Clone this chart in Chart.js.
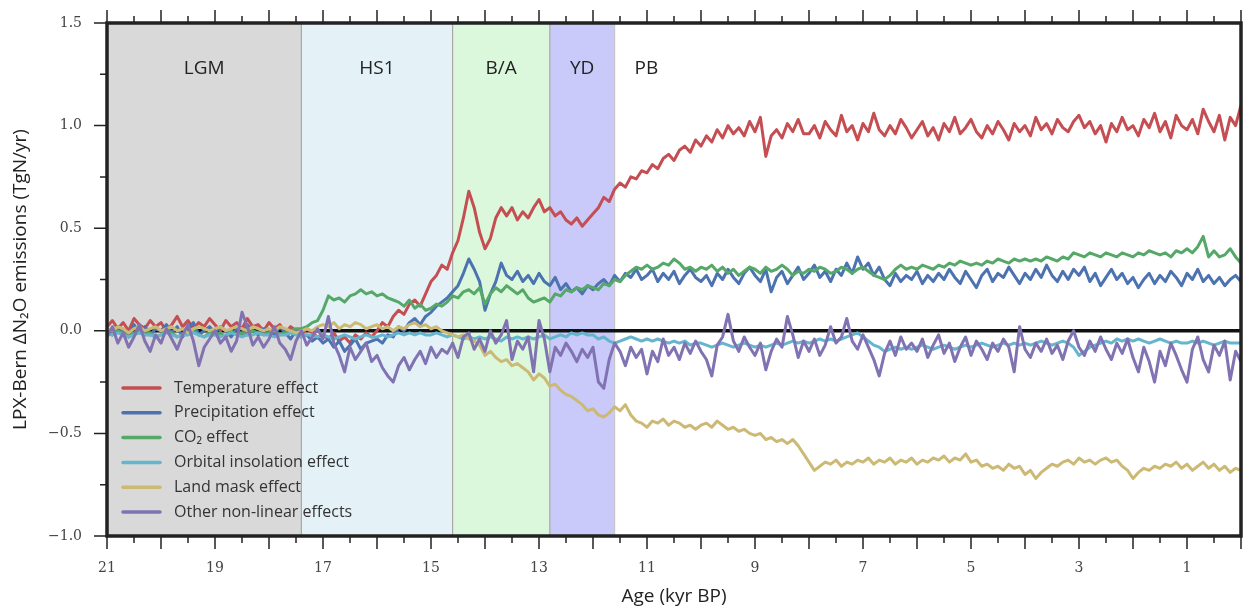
<!DOCTYPE html>
<html>
<head>
<meta charset="utf-8">
<script src="https://cdn.jsdelivr.net/npm/chart.js@4.4.1/dist/chart.umd.min.js"></script>
<style>
  html, body { margin: 0; padding: 0; background: #fff; }
  canvas { display: block; }
</style>
</head>
<body>
<canvas id="chart" width="1243" height="609"></canvas>
<script>
// ages in kyr BP, sampled every 0.1 kyr from 21.0 down to 0.0
const ages = Array.from({ length: 211 }, (_, i) => +(21 - i * 0.1).toFixed(1));

const xTickLabels = [21, 19, 17, 15, 13, 11, 9, 7, 5, 3, 1];
const yTickLabels = [1.5, 1.0, 0.5, 0.0, -0.5, -1.0];

const periodNames = ["LGM", "HS1", "B/A", "YD", "PB"];
const periodStart = [21.0, 17.4, 14.6, 12.8, 11.6];
const periodEnd = [17.4, 14.6, 12.8, 11.6, 0.0];
const periodColors = ["#d9d9d9", "#e4f2f8", "#dcf8dc", "#c9c9fa", "rgba(0,0,0,0)"];

const seriesNames = [
  "Temperature effect",
  "Precipitation effect",
  "CO\u2082 effect",
  "Orbital insolation effect",
  "Land mask effect",
  "Other non-linear effects",
];
const seriesColors = ["#c44e52", "#4c72b0", "#55a868", "#64b5cd", "#ccb974", "#8172b2"];

// one row per kyr (10 values), last value is 0.0 kyr
const temperature = [
  0.02, 0.05, 0.01, 0.04, 0.0, 0.06, 0.03, 0.01, 0.05, 0.02,
  0.04, 0.0, 0.03, 0.07, 0.02, 0.05, 0.01, 0.04, 0.02, 0.06,
  0.03, 0.0, 0.05, 0.02, 0.04, 0.01, 0.06, 0.02, 0.03, 0.0,
  0.04, 0.01, 0.03, -0.01, 0.02, 0.0, -0.02, 0.01, -0.01, -0.03,
  -0.02, -0.04, -0.01, -0.05, -0.03, -0.06, -0.02, -0.04, -0.01, -0.03,
  0.0, 0.04, 0.02, 0.07, 0.1, 0.08, 0.13, 0.15, 0.12, 0.18,
  0.24, 0.27, 0.32, 0.3, 0.38, 0.44, 0.55, 0.68, 0.6, 0.48,
  0.4, 0.45, 0.55, 0.6, 0.56, 0.6, 0.54, 0.58, 0.55, 0.6,
  0.64, 0.58, 0.6, 0.56, 0.58, 0.54, 0.52, 0.55, 0.51, 0.54,
  0.57, 0.6, 0.65, 0.63, 0.69, 0.72, 0.7, 0.75, 0.74, 0.78,
  0.77, 0.81, 0.79, 0.84, 0.86, 0.83, 0.88, 0.9, 0.87, 0.93,
  0.9, 0.95, 0.92, 0.98, 0.94, 1.0, 0.96, 0.99, 0.95, 1.02,
  0.97, 1.04, 0.85, 0.95, 0.98, 0.94, 1.01, 0.97, 1.03, 0.96,
  0.96, 1.0, 0.94, 1.02, 0.98, 0.95, 1.05, 0.97, 1.0, 0.93,
  1.01, 0.97, 1.06, 0.98, 0.95, 1.0, 0.96, 1.03, 0.99, 0.94,
  0.98, 1.02, 0.95, 0.99, 0.93, 1.01, 0.97, 1.04, 0.96, 0.99,
  1.03, 0.97, 0.94, 1.0, 0.96, 1.02, 0.98, 0.93, 1.01, 0.97,
  1.0, 0.95, 1.04, 0.98, 1.01, 0.96, 1.03, 0.99, 0.97, 1.02,
  1.05, 0.99, 1.02, 0.96, 1.0, 0.92, 1.01, 0.97, 1.04, 0.98,
  1.0, 0.95, 1.03, 0.99, 1.06, 0.97, 1.02, 0.94, 1.05, 1.0,
  0.98, 1.03, 0.96, 1.08, 1.02, 0.97, 1.05, 0.93, 1.04, 1.0,
  1.1,
];

const precipitation = [
  0.01, -0.02, 0.02, 0.0, -0.03, 0.03, -0.01, 0.02, -0.02, 0.01,
  0.0, 0.03, -0.01, 0.02, -0.03, 0.01, 0.04, -0.02, 0.0, 0.02,
  -0.01, 0.02, 0.0, -0.03, 0.01, -0.02, 0.03, 0.0, -0.02, 0.01,
  0.0, -0.02, 0.02, -0.01, -0.04, 0.0, -0.03, -0.02, -0.05, -0.03,
  -0.06, -0.04, -0.08, -0.05, -0.1, -0.07, -0.04, -0.09, -0.06, -0.05,
  -0.04, -0.06, -0.02, -0.03, 0.02, 0.0, 0.04, 0.06, 0.03, 0.07,
  0.09, 0.12, 0.14, 0.16, 0.19, 0.22, 0.28, 0.35, 0.3, 0.24,
  0.1, 0.18, 0.24, 0.33, 0.27, 0.25, 0.29, 0.24, 0.27, 0.23,
  0.28, 0.24, 0.22, 0.26, 0.2, 0.23, 0.19, 0.21, 0.18, 0.22,
  0.2, 0.23, 0.25, 0.22, 0.27, 0.24, 0.28, 0.26, 0.3, 0.25,
  0.27, 0.3, 0.24, 0.28, 0.25, 0.29, 0.23, 0.27, 0.3, 0.26,
  0.24, 0.27, 0.22, 0.28, 0.25, 0.3, 0.26, 0.23, 0.28, 0.31,
  0.27, 0.24, 0.3, 0.19, 0.26, 0.29, 0.23, 0.27, 0.31, 0.25,
  0.28, 0.32, 0.26, 0.29, 0.24, 0.3, 0.27, 0.33, 0.28, 0.36,
  0.3, 0.33, 0.27, 0.31, 0.25, 0.22, 0.28, 0.24, 0.27, 0.25,
  0.29, 0.23, 0.27, 0.24, 0.28, 0.25, 0.3, 0.26, 0.23, 0.29,
  0.25, 0.21, 0.27, 0.3, 0.24, 0.28, 0.26, 0.31, 0.27, 0.23,
  0.28, 0.25, 0.3, 0.26, 0.32, 0.27, 0.24, 0.29, 0.25, 0.3,
  0.27, 0.31, 0.24, 0.28, 0.22, 0.26, 0.3, 0.25, 0.28, 0.23,
  0.26, 0.21, 0.25, 0.28, 0.23, 0.27, 0.24, 0.29, 0.26, 0.22,
  0.28, 0.25, 0.3, 0.24, 0.27, 0.23, 0.26, 0.22, 0.25, 0.27,
  0.24,
];

const co2 = [
  -0.01, -0.02, 0.0, -0.01, -0.03, -0.01, 0.0, -0.02, -0.01, -0.03,
  -0.02, 0.0, -0.01, -0.03, -0.02, -0.01, 0.0, -0.02, -0.03, -0.01,
  -0.02, -0.01, -0.03, 0.0, -0.02, -0.01, -0.02, 0.0, -0.01, -0.02,
  -0.01, 0.0, -0.02, -0.01, 0.0, 0.01, 0.01, 0.02, 0.04, 0.05,
  0.1, 0.17, 0.15, 0.16, 0.14, 0.17, 0.18, 0.2, 0.18, 0.19,
  0.17, 0.18, 0.16, 0.15, 0.14, 0.12, 0.15, 0.11, 0.13, 0.1,
  0.11, 0.13, 0.12, 0.14, 0.17, 0.16, 0.19, 0.2, 0.18, 0.21,
  0.13, 0.18, 0.21, 0.19, 0.22, 0.2, 0.18, 0.2, 0.16, 0.14,
  0.15, 0.16, 0.14, 0.18, 0.17, 0.2, 0.19, 0.21, 0.2, 0.22,
  0.21, 0.2, 0.23, 0.22, 0.25, 0.24, 0.27, 0.29, 0.31, 0.3,
  0.32, 0.3, 0.31, 0.33, 0.32, 0.35, 0.33, 0.3, 0.31, 0.29,
  0.31, 0.3, 0.32, 0.29, 0.31, 0.28, 0.3, 0.27, 0.29, 0.31,
  0.3, 0.28, 0.31, 0.29, 0.3, 0.32, 0.3, 0.27, 0.29, 0.28,
  0.3, 0.29, 0.31, 0.3, 0.28, 0.29, 0.31, 0.3, 0.28, 0.3,
  0.31, 0.29, 0.27, 0.26, 0.25, 0.27, 0.3, 0.32, 0.3, 0.31,
  0.3, 0.32, 0.31, 0.3, 0.32, 0.31, 0.33, 0.32, 0.34, 0.33,
  0.32, 0.33, 0.32, 0.34, 0.33, 0.35, 0.34, 0.33, 0.35, 0.34,
  0.35, 0.34, 0.35, 0.34, 0.36, 0.35, 0.34, 0.36, 0.35, 0.38,
  0.37, 0.36, 0.38, 0.37, 0.36, 0.38, 0.37, 0.36, 0.38, 0.37,
  0.36, 0.38, 0.37, 0.39, 0.38, 0.37, 0.38, 0.36, 0.39, 0.38,
  0.4, 0.38, 0.41, 0.46, 0.36, 0.39, 0.36, 0.37, 0.4, 0.36,
  0.33,
];

const orbital = [
  -0.01, -0.02, -0.01, -0.02, -0.03, -0.02, -0.01, -0.02, -0.02, -0.03,
  -0.02, -0.01, -0.02, -0.03, -0.02, -0.02, -0.01, -0.02, -0.03, -0.02,
  -0.02, -0.03, -0.02, -0.01, -0.02, -0.03, -0.02, -0.02, -0.01, -0.02,
  -0.02, -0.03, -0.02, -0.02, -0.01, -0.02, -0.03, -0.02, -0.02, -0.03,
  -0.02, -0.03, -0.04, -0.03, -0.02, -0.03, -0.04, -0.03, -0.02, -0.03,
  -0.03, -0.02, -0.03, -0.02, -0.01, -0.02, -0.01, -0.02, -0.01, -0.02,
  -0.02, -0.01, -0.02, -0.03, -0.02, -0.03, -0.04, -0.03, -0.04, -0.03,
  -0.04, -0.03, -0.04, -0.05, -0.03, -0.04, -0.03, -0.04, -0.03, -0.04,
  -0.03, -0.02, -0.04, -0.03, -0.02, -0.03, -0.01, -0.02, -0.01, -0.02,
  -0.02, -0.04, -0.03, -0.05, -0.06, -0.05, -0.04, -0.03, -0.04, -0.05,
  -0.04, -0.05, -0.04, -0.05, -0.06, -0.05, -0.06, -0.05, -0.07, -0.06,
  -0.06, -0.07, -0.08, -0.07, -0.06, -0.07, -0.08, -0.07, -0.06, -0.07,
  -0.08, -0.07, -0.08, -0.07, -0.06, -0.07, -0.06, -0.05, -0.06, -0.05,
  -0.06, -0.05, -0.04, -0.05, -0.04, -0.05, -0.04, -0.03, -0.02, -0.01,
  -0.03, -0.05, -0.07, -0.08, -0.1, -0.09, -0.08, -0.09, -0.08, -0.09,
  -0.08, -0.07, -0.08, -0.09, -0.08, -0.07, -0.08, -0.09, -0.08, -0.07,
  -0.08, -0.07, -0.06, -0.07, -0.08, -0.07, -0.06, -0.07, -0.06, -0.07,
  -0.06, -0.07, -0.06, -0.05, -0.06, -0.07, -0.06, -0.05, -0.06, -0.08,
  -0.12, -0.1, -0.08, -0.07, -0.06, -0.05, -0.06, -0.04, -0.05, -0.04,
  -0.05, -0.04, -0.05, -0.06, -0.05, -0.04, -0.05, -0.06, -0.05, -0.06,
  -0.06, -0.05, -0.06, -0.05, -0.06, -0.07, -0.06, -0.05, -0.06, -0.06,
  -0.06,
];

const landMask = [
  0.01, 0.0, 0.02, 0.01, -0.01, 0.01, 0.02, 0.0, 0.01, 0.02,
  0.0, 0.01, 0.02, 0.0, 0.01, -0.01, 0.01, 0.02, 0.01, 0.0,
  0.01, 0.02, 0.0, 0.01, 0.02, 0.01, 0.0, 0.02, 0.01, 0.0,
  0.01, 0.0, 0.02, 0.01, 0.0, -0.01, 0.0, 0.01, 0.0, 0.02,
  0.03, 0.02, 0.04, 0.01, 0.03, 0.02, 0.04, 0.03, 0.01, 0.02,
  0.03, 0.01, 0.02, 0.0, 0.02, 0.01, 0.03, 0.04, 0.02, 0.03,
  0.01, 0.02, 0.0, -0.01, -0.02, -0.03, -0.02, -0.04, -0.05, -0.07,
  -0.12, -0.1, -0.13, -0.15, -0.14, -0.17, -0.16, -0.18, -0.2, -0.24,
  -0.21, -0.23, -0.27, -0.26, -0.29, -0.31, -0.32, -0.34, -0.36, -0.39,
  -0.38, -0.41, -0.42, -0.4, -0.37, -0.39, -0.36, -0.41, -0.44, -0.45,
  -0.47, -0.44, -0.45, -0.43, -0.46, -0.44, -0.45, -0.47, -0.46, -0.48,
  -0.46, -0.45, -0.47, -0.44, -0.46, -0.48, -0.47, -0.49, -0.48, -0.5,
  -0.51, -0.5, -0.53, -0.52, -0.54, -0.53, -0.55, -0.53, -0.56, -0.6,
  -0.64, -0.68, -0.66, -0.64, -0.65, -0.63, -0.66, -0.64, -0.65, -0.63,
  -0.64, -0.62, -0.65, -0.63, -0.64, -0.62, -0.65, -0.63, -0.64, -0.62,
  -0.65, -0.63, -0.64, -0.62, -0.63, -0.61, -0.64, -0.62, -0.63, -0.6,
  -0.64, -0.63, -0.66, -0.65, -0.67, -0.66, -0.68, -0.65, -0.67, -0.66,
  -0.7, -0.68, -0.72, -0.69, -0.67, -0.65, -0.66, -0.64, -0.63, -0.65,
  -0.62, -0.64, -0.63, -0.65, -0.63, -0.62, -0.64, -0.63, -0.66, -0.68,
  -0.72, -0.69, -0.67, -0.68, -0.66, -0.67, -0.65, -0.66, -0.64, -0.67,
  -0.65, -0.68, -0.66, -0.64, -0.67, -0.65, -0.68, -0.66, -0.69, -0.67,
  -0.68,
];

const otherEffects = [
  -0.03, 0.02, -0.06, -0.01, -0.08, -0.03, 0.03, -0.05, -0.1, -0.02,
  -0.06, 0.01, -0.04, -0.09, -0.02, 0.03, -0.05, -0.17, -0.08, -0.04,
  0.0, -0.06, -0.03, -0.1, -0.05, 0.09, 0.02, -0.07, -0.03, -0.08,
  -0.04, 0.02, -0.06, -0.09, -0.14, -0.05, 0.0, -0.07, -0.03, 0.01,
  -0.04, 0.07, -0.06, -0.12, -0.2, -0.08, -0.14, -0.1, -0.06, -0.15,
  -0.12, -0.18, -0.22, -0.25, -0.17, -0.13, -0.19, -0.14, -0.1, -0.16,
  -0.08, -0.13, -0.09, -0.11, -0.06, -0.13, -0.03, -0.01, -0.09, -0.04,
  -0.1, 0.0, -0.06, -0.02, 0.05, -0.14, -0.05, -0.09, -0.03, -0.2,
  0.05, -0.04, -0.2, -0.08, -0.12, -0.06, -0.1, -0.15, -0.09, -0.13,
  -0.08, -0.25, -0.28, -0.14, -0.06, -0.1, -0.17, -0.08, -0.13, -0.09,
  -0.21, -0.1, -0.15, -0.04, -0.12, -0.08, -0.14, -0.06, -0.11, -0.05,
  -0.1, -0.14, -0.22, -0.07, -0.03, 0.08, -0.05, -0.1, -0.03, -0.08,
  -0.12, -0.06, -0.19, -0.1, -0.04, -0.08, 0.07, -0.02, -0.13, -0.05,
  -0.1, -0.04, -0.12, -0.07, 0.02, -0.06, -0.03, 0.06, -0.05, -0.09,
  -0.02, -0.08, -0.14, -0.22, -0.11, -0.05, -0.12, -0.03, -0.09, -0.06,
  -0.1, -0.04, -0.13, -0.07, -0.02, -0.11, -0.06, -0.15, -0.08, -0.03,
  -0.12, -0.05, -0.09, -0.14, -0.06, -0.1, -0.04, -0.08, -0.2, 0.02,
  -0.09, -0.13, -0.06, -0.1, -0.04, -0.11, -0.07, -0.14, -0.05, 0.0,
  -0.08, -0.12, -0.05, -0.1, -0.03, -0.09, -0.14, -0.06, -0.11, -0.04,
  -0.13, -0.2, -0.08, -0.15, -0.25, -0.1, -0.17, -0.06, -0.12, -0.19,
  -0.25, -0.09, -0.03, -0.14, -0.2, -0.07, -0.12, -0.05, -0.24, -0.1,
  -0.15,
];

const seriesValues = [temperature, precipitation, co2, orbital, landMask, otherEffects];

const SANS = "'Open Sans', 'DejaVu Sans', sans-serif";
const SERIF = "'DejaVu Serif', 'Liberation Serif', serif";
const INK = "#222";

// period bands, zero line and band names, drawn under the curves
const bandsPlugin = {
  id: "bands",
  beforeDatasetsDraw(chart) {
    const { ctx, chartArea, scales } = chart;
    const x = scales.x;
    const y = scales.y;
    ctx.save();
    periodNames.forEach((name, i) => {
      const x0 = x.getPixelForValue(periodStart[i]);
      const x1 = x.getPixelForValue(periodEnd[i]);
      ctx.fillStyle = periodColors[i];
      ctx.fillRect(x0, chartArea.top, x1 - x0, chartArea.height);
      if (i > 0) {
        ctx.strokeStyle = i === 4 ? "#c8c8c8" : "#a8a8a8";
        ctx.lineWidth = 1.2;
        ctx.beginPath();
        ctx.moveTo(x0, chartArea.top);
        ctx.lineTo(x0, chartArea.bottom);
        ctx.stroke();
      }
      ctx.fillStyle = INK;
      ctx.font = "19px " + SANS;
      ctx.textBaseline = "middle";
      if (i < 4) {
        ctx.textAlign = "center";
        ctx.fillText(name, (x0 + x1) / 2, chartArea.top + 46);
      } else {
        ctx.textAlign = "left";
        ctx.fillText(name, x0 + 20, chartArea.top + 46);
      }
    });
    const y0 = y.getPixelForValue(0);
    ctx.strokeStyle = "#111";
    ctx.lineWidth = 3.5;
    ctx.beginPath();
    ctx.moveTo(chartArea.left, y0);
    ctx.lineTo(chartArea.right, y0);
    ctx.stroke();
    ctx.restore();
  },
};

// frame, tick marks, axis titles and legend
const framePlugin = {
  id: "frame",
  afterDraw(chart) {
    const { ctx, chartArea, scales } = chart;
    const x = scales.x;
    const y = scales.y;
    const { left, right, top, bottom } = chartArea;
    ctx.save();
    ctx.strokeStyle = INK;
    ctx.lineWidth = 1.5;
    ctx.beginPath();
    for (let k = 0; k <= 42; k++) {
      const v = k / 2;
      const px = x.getPixelForValue(v);
      const len = k % 2 === 0 ? 13 : 7;
      ctx.moveTo(px, bottom);
      ctx.lineTo(px, bottom + len);
      ctx.moveTo(px, top);
      ctx.lineTo(px, top - len);
    }
    for (let k = 0; k <= 10; k++) {
      const v = -1 + k * 0.25;
      const py = y.getPixelForValue(v);
      const len = k % 2 === 0 ? 13 : 7;
      ctx.moveTo(left, py);
      ctx.lineTo(left - len, py);
    }
    ctx.stroke();

    ctx.lineWidth = 3.5;
    ctx.strokeRect(left, top, right - left, bottom - top);

    // axis titles
    ctx.fillStyle = INK;
    ctx.font = "19px " + SANS;
    ctx.textAlign = "center";
    ctx.textBaseline = "middle";
    ctx.fillText("Age (kyr BP)", (left + right) / 2, 597);
    ctx.translate(21, (top + bottom) / 2);
    ctx.rotate(-Math.PI / 2);
    ctx.fillText("LPX-Bern \u0394N\u2082O emissions (TgN/yr)", 0, 0);
    ctx.restore();

    // legend in the lower left corner
    ctx.save();
    ctx.font = "16px " + SANS;
    ctx.textAlign = "left";
    ctx.textBaseline = "middle";
    chart.data.datasets.forEach((ds, i) => {
      const ly = bottom - 148 + i * 24.8;
      ctx.strokeStyle = ds.borderColor;
      ctx.lineWidth = 3.5;
      ctx.lineCap = "round";
      ctx.beginPath();
      ctx.moveTo(left + 16, ly);
      ctx.lineTo(left + 53, ly);
      ctx.stroke();
      ctx.fillStyle = "#333";
      ctx.fillText(ds.label, left + 67, ly);
    });
    ctx.restore();
  },
};

const datasets = seriesNames.map((name, i) => ({
  label: name,
  data: ages.map((a, j) => ({ x: a, y: seriesValues[i][j] })),
  borderColor: seriesColors[i],
  borderWidth: 3,
  pointRadius: 0,
  tension: 0,
  borderJoinStyle: "round",
  order: seriesNames.length - i,
}));

new Chart(document.getElementById("chart").getContext("2d"), {
  type: "line",
  data: { datasets },
  options: {
    responsive: false,
    animation: false,
    devicePixelRatio: 1,
    layout: { padding: { top: 23, right: 2, left: 0, bottom: 0 } },
    plugins: {
      legend: { display: false },
      tooltip: { enabled: false },
    },
    scales: {
      x: {
        type: "linear",
        reverse: true,
        min: 0,
        max: 21,
        border: { display: false },
        grid: { display: false, drawTicks: false },
        afterBuildTicks: (scale) => {
          scale.ticks = xTickLabels.map((v) => ({ value: v }));
        },
        afterFit: (scale) => {
          scale.height = 73;
          scale.paddingLeft = 0;
          scale.paddingRight = 0;
        },
        ticks: {
          padding: 24,
          color: "#444",
          font: { family: SERIF, size: 14 },
          maxRotation: 0,
          autoSkip: false,
        },
      },
      y: {
        min: -1,
        max: 1.5,
        border: { display: false },
        grid: { display: false, drawTicks: false },
        afterBuildTicks: (scale) => {
          scale.ticks = yTickLabels.map((v) => ({ value: v }));
        },
        afterFit: (scale) => {
          scale.width = 107;
          scale.paddingTop = 0;
          scale.paddingBottom = 0;
        },
        ticks: {
          padding: 25,
          color: "#444",
          font: { family: SERIF, size: 14 },
          callback: (v) => (v < 0 ? "\u2212" + Math.abs(v).toFixed(1) : v.toFixed(1)),
        },
      },
    },
  },
  plugins: [bandsPlugin, framePlugin],
});
</script>
</body>
</html>
